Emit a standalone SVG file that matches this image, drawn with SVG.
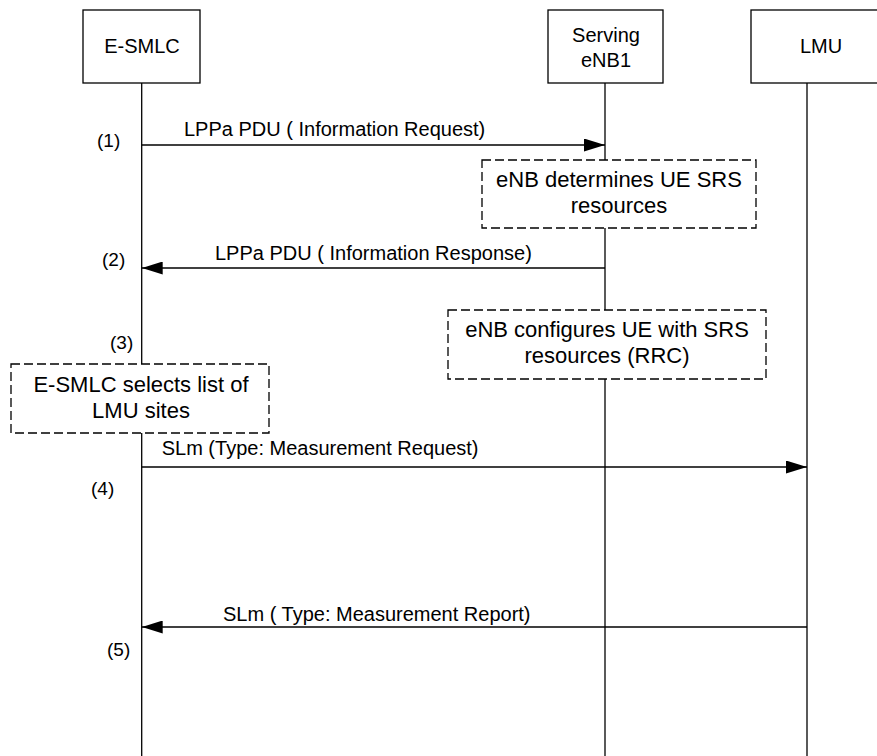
<svg xmlns="http://www.w3.org/2000/svg" width="877" height="756" viewBox="0 0 877 756">
<style>
.box{fill:#fff;stroke:#000;stroke-width:1.3}
.dbox{fill:#fff;stroke:#000;stroke-width:1.3;stroke-dasharray:9 4}
.life{stroke:#000;stroke-width:1.3}
.msg{stroke:#000;stroke-width:1.3;fill:none}
text{font-family:"Liberation Sans",Arial,sans-serif;fill:#000}
.t20{font-size:20px}
.t22{font-size:22px}
.num{font-size:19px}
.c{text-anchor:middle}
</style>
<defs>
<marker id="ah" markerUnits="userSpaceOnUse" markerWidth="21" markerHeight="13" viewBox="0 0 21 13" refX="21" refY="6.5" orient="auto">
<path d="M0,0 L21,6.5 L0,13 Z" fill="#000"/>
</marker>
</defs>
<rect width="877" height="756" fill="#fff"/>

<g id="esmlc">
<line class="life" x1="141.7" y1="83" x2="141.7" y2="756"/>
<rect class="box" x="83" y="10" width="117" height="73"/>
<text class="t20 c" x="142" y="53">E-SMLC</text>
</g>
<g id="enb1">
<line class="life" x1="605" y1="83" x2="605" y2="756"/>
<rect class="box" x="548" y="10" width="115" height="73"/>
<text class="t20 c" x="606" y="42">Serving</text>
<text class="t20 c" x="606" y="67">eNB1</text>
</g>
<g id="lmu">
<line class="life" x1="807" y1="83" x2="807" y2="756"/>
<rect class="box" x="751" y="10" width="140" height="73"/>
<text class="t20 c" x="821" y="53">LMU</text>
</g>

<g id="note-determines">
<rect class="dbox" x="482" y="160" width="274" height="68"/>
<text class="t22 c" x="619" y="187">eNB determines UE SRS</text>
<text class="t22 c" x="619" y="213">resources</text>
</g>
<g id="note-configures">
<rect class="dbox" x="448" y="310" width="318" height="69"/>
<text class="t22 c" x="607" y="337">eNB configures UE with SRS</text>
<text class="t22 c" x="607" y="363">resources (RRC)</text>
</g>
<g id="note-selects">
<rect class="dbox" x="11" y="364" width="258" height="69"/>
<text class="t22 c" x="141" y="392">E-SMLC selects list of</text>
<text class="t22 c" x="141" y="418">LMU sites</text>
</g>

<g id="connectors">
<line class="msg" x1="141.7" y1="145" x2="605" y2="145" marker-end="url(#ah)"/>
<line class="msg" x1="605" y1="268" x2="141.7" y2="268" marker-end="url(#ah)"/>
<line class="msg" x1="141.7" y1="467" x2="807" y2="467" marker-end="url(#ah)"/>
<line class="msg" x1="807" y1="627" x2="141.7" y2="627" marker-end="url(#ah)"/>
</g>

<g id="labels">
<text class="t20" x="184" y="136">LPPa PDU ( Information Request)</text>
<text class="t20" x="215" y="260">LPPa PDU ( Information Response)</text>
<text class="t20" x="161.7" y="455">SLm (Type: Measurement Request)</text>
<text class="t20" x="223" y="621">SLm ( Type: Measurement Report)</text>
<text class="num" x="97" y="147">(1)</text>
<text class="num" x="102" y="266">(2)</text>
<text class="num" x="110" y="349">(3)</text>
<text class="num" x="91" y="495">(4)</text>
<text class="num" x="107" y="656">(5)</text>
</g>
</svg>
